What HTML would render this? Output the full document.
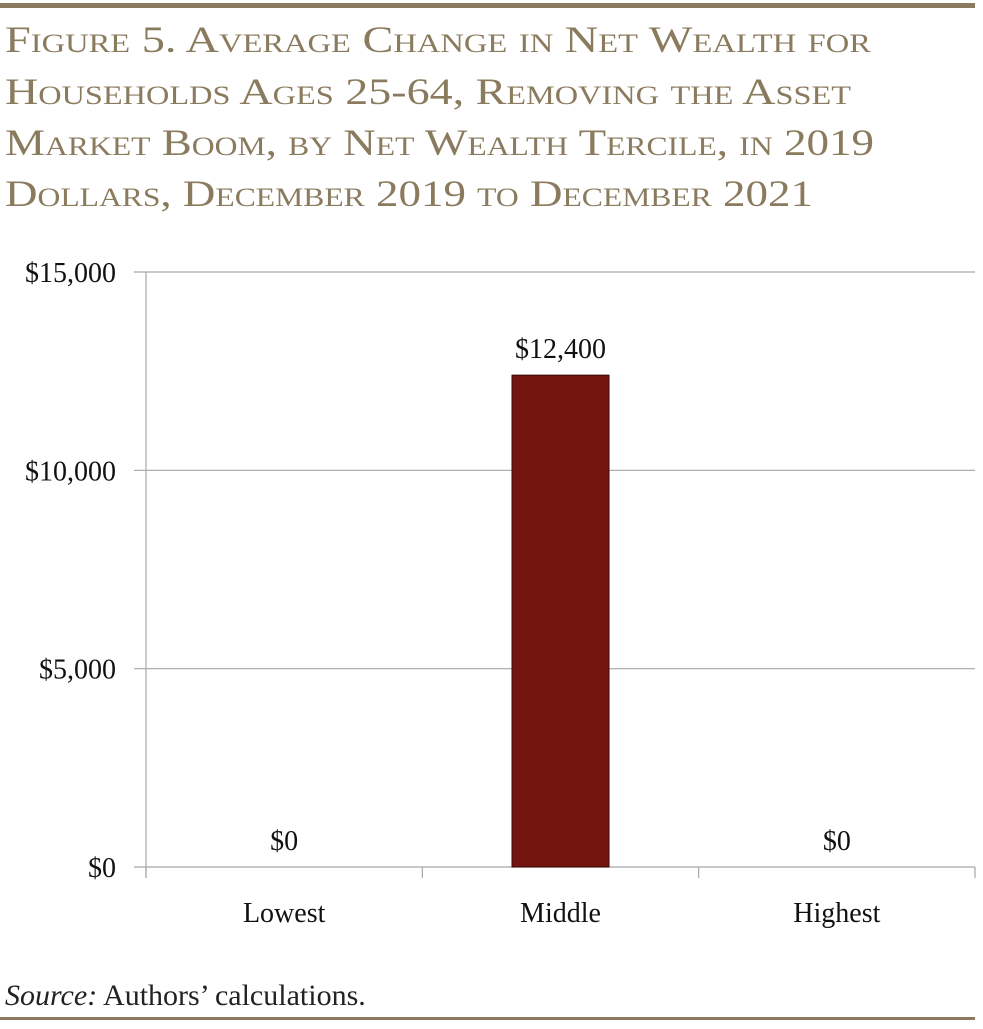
<!DOCTYPE html>
<html><head><meta charset="utf-8"><style>
html,body{margin:0;padding:0;background:#fff;}
svg text{font-family:"Liberation Serif",serif;}
.t{font-size:37px;fill:#8b7b5e;font-variant:small-caps;}
</style></head><body>
<svg width="983" height="1024" viewBox="0 0 983 1024">
<rect x="0" y="3" width="975" height="5" fill="#8b7b5e"/>
<g>
<text class="t" x="5" y="52" textLength="866" lengthAdjust="spacingAndGlyphs">Figure 5. Average Change in Net Wealth for</text>
<text class="t" x="5" y="104" textLength="846" lengthAdjust="spacingAndGlyphs">Households Ages 25-64, Removing the Asset</text>
<text class="t" x="5" y="155" textLength="869" lengthAdjust="spacingAndGlyphs">Market Boom, by Net Wealth Tercile, in 2019</text>
<text class="t" x="5" y="206" textLength="808" lengthAdjust="spacingAndGlyphs">Dollars, December 2019 to December 2021</text>
</g>
<g id="plot"></g>
<text x="5" y="1005" font-size="30" fill="#222"><tspan font-style="italic">Source:</tspan> Authors’ calculations.</text>
<rect x="0" y="1017" width="975" height="3" fill="#8b7b5e"/>
</svg>
<script>
const categories=["Lowest","Middle","Highest"];
const values=[0,12400,0];
const valueLabels=["$0","$12,400","$0"];
const ticks=[0,5000,10000,15000];
const tickLabels=["$0","$5,000","$10,000","$15,000"];
const NS="http://www.w3.org/2000/svg";
const g=document.getElementById("plot");
const x0=146,x1=975,y0=867,y1=272,max=15000;
const y=v=>y0-(v/max)*(y0-y1);
const bw=(x1-x0)/categories.length;
const xc=i=>x0+bw*(i+0.5);
function mk(tag,a){const e=document.createElementNS(NS,tag);for(const k in a)e.setAttribute(k,a[k]);g.appendChild(e);return e;}
ticks.forEach((t,i)=>{
 const l=mk("line",{x1:x0-12,x2:x1,y1:y(t),y2:y(t),stroke:"#a6a6a6","stroke-width":1.2});
 
 
 const tx=mk("text",{x:116,y:y(t)+10,"text-anchor":"end","font-size":28,fill:"#111"});
 tx.textContent=tickLabels[i];
 
 
});
const ax=mk("line",{x1:x0,x2:x0,y1:y1,y2:y0+11,stroke:"#a6a6a6","stroke-width":1.2});


for(let i=0;i<=categories.length;i++){
 const tk=mk("line",{x1:x0+bw*i,x2:x0+bw*i,y1:y0,y2:y0+11,stroke:"#a6a6a6","stroke-width":1.2});
 
 
}
categories.forEach((c,i)=>{
 const w=97;
 const r=mk("rect",{x:xc(i)-w/2,y:y(values[i]),width:w,height:y0-y(values[i]),fill:"#73140f",stroke:"#3a0a08","stroke-width":1});
 
 
 const vl=mk("text",{x:xc(i),y:y(values[i])-17,"text-anchor":"middle","font-size":28,fill:"#111"});
 vl.textContent=valueLabels[i];
 
 
 const cl=mk("text",{x:xc(i),y:922,"text-anchor":"middle","font-size":28,fill:"#111"});
 cl.textContent=c;
 
 
});
</script>
</body></html>
